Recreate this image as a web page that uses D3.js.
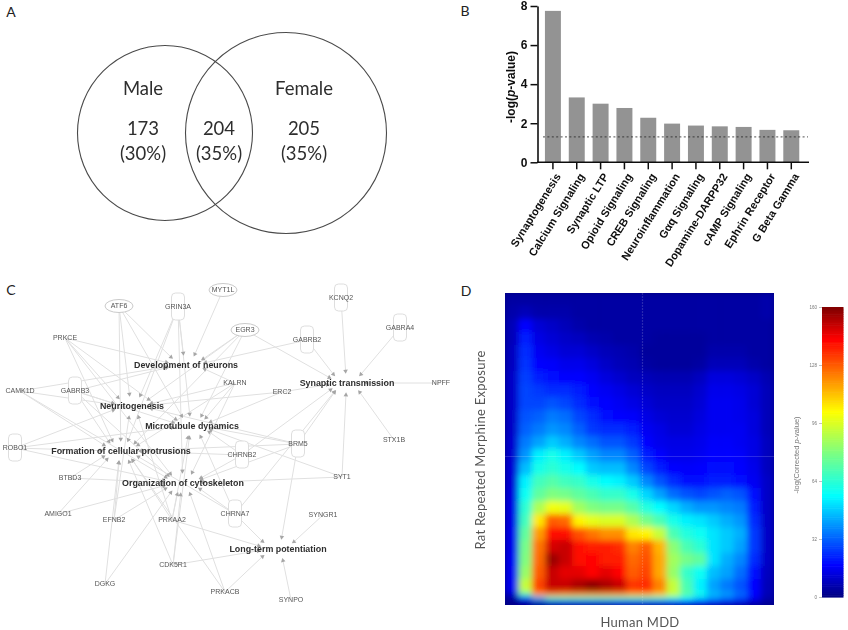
<!DOCTYPE html>
<html><head><meta charset="utf-8">
<style>html,body{margin:0;padding:0;background:#fff}svg{display:block}</style>
<script src="https://cdn.jsdelivr.net/npm/d3@7/dist/d3.min.js"></script></head>
<body><svg id="c" width="848" height="630"></svg>
<script>
// ---- Panel A values
const vennNames = ["Male","Female"];
const vennCounts = ["173","204","205"];
const vennPercents = ["(30%)","(35%)","(35%)"];
// ---- Panel B values
const pathways = ["Synaptogenesis","Calcium Signaling","Synaptic LTP","Opioid Signaling","CREB Signaling","Neuroinflammation","Gαq Signaling","Dopamine-DARPP32","cAMP Signaling","Ephrin Receptor","G Beta Gamma"];
const logP = [7.75,3.32,3.0,2.78,2.28,1.98,1.88,1.84,1.81,1.66,1.64];
const threshold = 1.3;
const yTicksB = [0,2,4,6,8];
// ---- Panel C values
const hubs = ["Development of neurons","Synaptic transmission","Neuritogenesis","Microtubule dynamics","Formation of cellular protrusions","Organization of cytoskeleton","Long-term potentiation"];
const genes = ["ATF6","GRIN3A","MYT1L","EGR3","PRKCE","KCNQ2","GABRA4","GABRB2","CAMK1D","GABRB3","KALRN","ERC2","NPFF","ROBO1","STX1B","BRM5","CHRNB2","SYT1","BTBD3","AMIGO1","EFNB2","PRKAA2","CHRNA7","SYNGR1","CDK5R1","DGKG","PRKACB","SYNPO"];
const geneLinks = [[0,2,3,4],[0,2,3,4,5],[0],[0,1,2,3,4],[0,2,3,4,5],[1],[1],[1,0],[0,2,4,5],[0,2,3,4,5],[0,2,3,4,5],[1,2,3],[1],[2,3,4,5],[1],[1,2,3,4,5,6],[1,3,4,5],[1,3,5],[4,5],[4,5],[2,4,5],[2,3,4,5,6],[1,3,4,5,6],[6],[3,4,5,6],[4,5],[4,5,6],[6]];
// ---- Panel D values
const heatCols = d3.range(20), heatRows = d3.range(26);
const heatValues = [
[5,5,5,5,5,5,5,5,5,5,5,5,5,5,5,5,5,5,5,6],
[6,8,6,6,6,5,5,5,5,5,5,5,5,5,5,5,5,5,5,6],
[8,18,12,10,8,6,5,5,5,5,5,5,5,5,5,5,5,5,5,5],
[8,22,14,12,10,9,7,6,5,5,5,4,4,4,4,5,5,5,5,5],
[9,24,16,14,12,12,10,8,7,6,4,4,4,4,4,6,6,6,5,5],
[9,25,18,17,15,15,13,10,8,7,5,4,4,4,5,8,8,8,6,5],
[10,27,22,20,18,18,16,13,11,9,8,7,7,7,9,13,13,12,10,7],
[10,28,26,24,24,22,18,16,14,12,10,9,9,9,11,15,15,14,12,8],
[10,28,28,30,28,24,20,18,16,14,12,10,10,10,12,16,16,15,12,8],
[10,30,32,36,34,28,24,20,18,17,14,12,11,11,13,16,16,15,13,8],
[10,32,36,40,38,32,26,24,24,22,16,14,12,12,14,16,16,16,13,8],
[11,36,42,48,44,38,34,30,30,26,18,15,14,14,15,17,17,16,14,9],
[11,40,54,60,54,48,42,38,38,32,22,18,15,15,16,18,18,17,14,9],
[12,46,60,64,60,56,48,46,46,38,28,22,18,17,18,20,20,18,15,9],
[12,54,68,72,68,66,60,56,54,48,38,30,24,20,20,22,22,20,16,10],
[13,58,74,80,78,74,70,66,66,60,50,42,34,30,28,30,32,30,20,10],
[14,64,88,100,98,86,80,78,78,72,62,56,50,44,40,40,38,36,22,10],
[14,68,106,128,126,104,98,96,96,88,78,70,60,54,52,48,44,40,24,10],
[15,74,118,140,140,130,124,120,120,106,104,92,70,62,58,52,48,44,26,10],
[15,78,124,148,150,140,138,138,136,122,128,114,82,70,64,52,48,42,26,10],
[16,80,126,156,150,140,142,138,138,126,130,116,86,78,74,52,44,38,24,10],
[16,84,128,150,146,146,142,146,142,128,132,116,84,66,58,46,42,34,20,9],
[16,92,132,150,150,154,158,154,150,134,136,122,92,70,54,42,36,30,18,8],
[10,70,118,124,122,122,122,122,122,118,118,112,94,74,60,46,42,34,20,8],
[4,20,44,66,68,68,68,68,68,68,68,66,62,56,48,40,34,28,16,6],
[2,4,6,12,14,14,14,14,16,16,16,16,18,18,18,16,14,12,8,4]];
const colorbarTicks = [0,32,64,96,128,160];

// ---- Layout (separate from values)
const hubPos = [[186,365],[347,383],[132,406],[192,426],[121,451],[183,483],[278,549]];
const genePos = [[119,306],[178,307],[223,290],[245,330],[65,338],[341,298],[400,328],[307,340],[20,391],[75,391],[235,383],[282,392],[441,383],[15,448],[394,440],[298,444],[242,455],[342,477],[70,478],[58,514],[114,520],[172,520],[235,514],[323,515],[173,565],[105,584],[225,592],[291,600]];
const receptorGenes = ["GRIN3A","KCNQ2","GABRA4","GABRB2","GABRB3","CHRNB2","BRM5","CHRNA7","ROBO1"];
const ovalGenes = ["ATF6","MYT1L","EGR3"];
const sans = "'Liberation Sans',Arial,sans-serif";
const soft = "Lato,'Open Sans',sans-serif";

const svg = d3.select("#c");
const defs = svg.append("defs");
const blur = (id,s)=>defs.append("filter").attr("id",id).attr("filterUnits","userSpaceOnUse").attr("x",0).attr("y",0).attr("width",848).attr("height",630).append("feGaussianBlur").attr("stdDeviation",s);
blur("soft",0.4); blur("softC",0.6); blur("heat",3.4);

// Panel letters
svg.append("g").attr("font-family",soft).attr("font-size",14).attr("fill","#222").selectAll("text")
 .data([["A",11,17],["B",465,16],["C",11,295],["D",466,296]]).join("text")
 .attr("x",d=>d[1]).attr("y",d=>d[2]).attr("text-anchor","middle").text(d=>d[0]);

// ---- A
const A = svg.append("g").attr("filter","url(#soft)");
const vennGeom=[[165,133,87.5],[286,133,100.5]];
A.selectAll("circle").data(vennGeom).join("circle").attr("cx",d=>d[0]).attr("cy",d=>d[1]).attr("r",d=>d[2]).attr("fill","none").attr("stroke","#4a4a4a").attr("stroke-width",1.1);
const aT=(t,x,y)=>A.append("text").attr("x",x).attr("y",y).attr("text-anchor","middle").attr("font-family",soft).attr("font-size",18.5).attr("fill","#2e2e2e").text(t);
aT(vennNames[0],143,95);aT(vennNames[1],304,95);
[143,219,304].forEach((x,i)=>{aT(vennCounts[i],x,135);aT(vennPercents[i],x,160);});

// ---- B
const B = svg.append("g").attr("filter","url(#soft)");
const xB = d3.scaleBand().domain(pathways).range([541,803.2]).paddingInner(0.33).paddingOuter(0.165);
const yB = d3.scaleLinear().domain([0,8]).range([162.3,6]);
B.selectAll("rect").data(logP).join("rect").attr("x",(d,i)=>xB(pathways[i])).attr("width",xB.bandwidth()).attr("y",d=>yB(d)).attr("height",d=>yB(0)-yB(d)).attr("fill","#939393");
B.append("line").attr("x1",543).attr("x2",808).attr("y1",yB(threshold)).attr("y2",yB(threshold)).attr("stroke","#222").attr("stroke-width",0.8).attr("stroke-dasharray","2 2.4");
const axLeft = B.append("g").attr("transform","translate(537.5,0)").call(d3.axisLeft(yB).tickValues(yTicksB).tickSize(7).tickSizeOuter(0));
axLeft.select(".domain").attr("stroke","#111").attr("stroke-width",1.6);
axLeft.selectAll("line").attr("stroke","#111").attr("stroke-width",1.5);
axLeft.selectAll("text").attr("font-family",sans).attr("font-weight","bold").attr("font-size",12).attr("fill","#111");
const axBot = B.append("g").attr("transform","translate(0,162.3)").call(d3.axisBottom(xB).tickSize(7).tickSizeOuter(0));
axBot.select(".domain").remove();
B.append("line").attr("x1",537).attr("x2",809).attr("y1",162.3).attr("y2",162.3).attr("stroke","#111").attr("stroke-width",1.6);
axBot.selectAll("line").attr("stroke","#111").attr("stroke-width",1.5);
axBot.selectAll("text").attr("font-family",sans).attr("font-weight","bold").attr("font-size",11).attr("fill","#111")
 .attr("text-anchor","end").attr("transform","translate(5,12) rotate(-58)").attr("x",0).attr("y",0).attr("dy","0.35em");
const yl=B.append("text").attr("transform","translate(515,87) rotate(-90)").attr("text-anchor","middle").attr("font-family",sans).attr("font-weight","bold").attr("font-size",12).attr("fill","#111");
yl.append("tspan").text("-log(");yl.append("tspan").attr("font-style","italic").text("p");yl.append("tspan").text("-value)");

// ---- C
const C = svg.append("g").attr("filter","url(#softC)");
const links=[];geneLinks.forEach((hs,g)=>hs.forEach(h=>links.push({g,h})));
const ringEnd=(l)=>{const [hx,hy]=hubPos[l.h],[gx,gy]=genePos[l.g];const a=Math.atan2(gy-hy,gx-hx);return {x:hx+Math.cos(a)*20,y:hy+Math.sin(a)*12,a};};
C.append("g").selectAll("line").data(links).join("line")
 .attr("x1",d=>genePos[d.g][0]).attr("y1",d=>genePos[d.g][1]).attr("x2",d=>ringEnd(d).x).attr("y2",d=>ringEnd(d).y)
 .attr("stroke","#e0e0e0").attr("stroke-width",1);
const tri=d3.symbol().type(d3.symbolTriangle).size(9);
C.append("g").selectAll("path").data(links).join("path").attr("d",tri)
 .attr("transform",d=>{const e=ringEnd(d);return `translate(${e.x},${e.y}) rotate(${e.a*180/Math.PI-90})`;}).attr("fill","#a6a6a6");
const gn=C.append("g").selectAll("g").data(genes).join("g").attr("transform",(d,i)=>`translate(${genePos[i][0]},${genePos[i][1]})`);
gn.filter(d=>receptorGenes.includes(d)).append("rect").attr("x",-6.5).attr("y",-14).attr("width",13).attr("height",27).attr("rx",4).attr("fill","#fff").attr("stroke","#dadada").attr("stroke-width",0.9);
gn.filter(d=>ovalGenes.includes(d)).append("ellipse").attr("rx",14).attr("ry",6.5).attr("fill","#fff").attr("stroke","#c4c4c4").attr("stroke-width",0.9);
gn.append("text").attr("text-anchor","middle").attr("dy","0.35em").attr("font-family",sans).attr("font-size",7).attr("fill","#555").text(d=>d);
C.append("g").selectAll("text").data(hubs).join("text").attr("x",(d,i)=>hubPos[i][0]).attr("y",(d,i)=>hubPos[i][1]).attr("dy","0.35em")
 .attr("text-anchor","middle").attr("font-family",sans).attr("font-weight","bold").attr("font-size",8.9).attr("fill","#2e2e2e").text(d=>d);

// ---- D
const jet=d3.scaleLinear().domain([0,.11,.35,.5,.64,.89,1].map(t=>t*160)).range(["#00007f","#0000ff","#00ffff","#7fff7f","#ffff00","#ff0000","#7f0000"]).clamp(true);
const xD=d3.scaleBand().domain(heatCols).range([505,774]);
const yD=d3.scaleLinear().domain([0,23,26]).range([293,592,605]);
defs.append("clipPath").attr("id","plot").append("rect").attr("x",505).attr("y",293).attr("width",269).attr("height",312);
const D=svg.append("g").attr("clip-path","url(#plot)");
D.append("rect").attr("x",505).attr("y",293).attr("width",269).attr("height",312).attr("fill","#00007f");
D.append("g").attr("filter","url(#heat)").selectAll("g").data(heatValues).join("g")
 .each(function(row,r){d3.select(this).selectAll("rect").data(row).join("rect")
   .attr("x",(d,c)=>xD(c)).attr("y",yD(heatRows[r])).attr("width",xD.bandwidth()+.5).attr("height",yD(heatRows[r]+1)-yD(heatRows[r])+.5).attr("fill",d=>jet(d));});
D.append("line").attr("x1",642.5).attr("x2",642.5).attr("y1",293).attr("y2",605).attr("stroke","#fff").attr("stroke-opacity",.16).attr("stroke-width",1.2).attr("stroke-dasharray","2 1");
D.append("line").attr("x1",505).attr("x2",774).attr("y1",456.5).attr("y2",456.5).attr("stroke","#fff").attr("stroke-opacity",.16).attr("stroke-width",1);
const DT=svg.append("g").attr("filter","url(#soft)");
DT.append("text").attr("transform","translate(485,450) rotate(-90)").attr("text-anchor","middle").attr("font-family",soft).attr("font-size",13).attr("letter-spacing",.25).attr("fill","#555").text("Rat Repeated Morphine Exposure");
DT.append("text").attr("x",640).attr("y",627).attr("text-anchor","middle").attr("font-family",soft).attr("font-size",13).attr("letter-spacing",.25).attr("fill","#555").text("Human MDD");
// colorbar
const yCb=d3.scaleLinear().domain([0,160]).range([597,307]);
const cb=svg.append("g").attr("filter","url(#soft)");
cb.append("g").selectAll("rect").data(d3.range(0,160,1)).join("rect").attr("x",822).attr("width",21.5).attr("y",d=>yCb(d+1)).attr("height",d=>yCb(d)-yCb(d+1)+.6).attr("fill",d=>jet(d+.5));
const axCb=cb.append("g").attr("transform","translate(822,0)").call(d3.axisLeft(yCb).tickValues(colorbarTicks).tickSize(3));
axCb.select(".domain").remove();axCb.selectAll("line").attr("stroke","#999").attr("stroke-width",.6);
axCb.selectAll("text").attr("font-family",sans).attr("font-size",4.5).attr("fill","#777").attr("x",-5);
const cl=cb.append("text").attr("transform","translate(799,455) rotate(-90)").attr("text-anchor","middle").attr("font-family",sans).attr("font-size",7.5).attr("fill","#777");
cl.append("tspan").text("-log(Corrected ");cl.append("tspan").attr("font-style","italic").text("p");cl.append("tspan").text("-value)");
</script></body></html>
